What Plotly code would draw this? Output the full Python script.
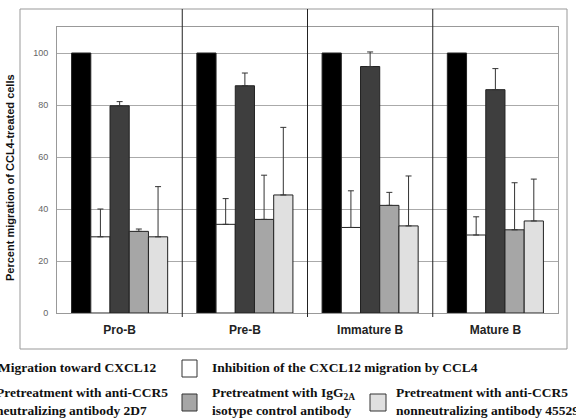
import plotly.graph_objects as go

categories = ["Pro-B", "Pre-B", "Immature B", "Mature B"]
cxcl12 = [100, 100, 100, 100]
ccl4 = [29.3, 34.1, 32.9, 30.0]
ccl4_err = [10.7, 9.9, 14.1, 7.0]
ab2d7 = [79.7, 87.4, 94.8, 85.9]
ab2d7_err = [1.6, 4.9, 5.6, 8.1]
igg = [31.4, 36.0, 41.4, 32.0]
igg_err = [0.9, 17.0, 5.0, 18.1]
ab45529 = [29.3, 45.4, 33.5, 35.4]
ab45529_err = [19.3, 26.0, 19.2, 16.1]
y_ticks = [0, 20, 40, 60, 80, 100]

W, H = 576, 418
L, R, T, B = 57, 18, 27, 105
PW, PH = W - L - R, H - T - B


def px(x):
    return (x - L) / PW


def py(y):
    return (H - B - y) / PH


series = [
    ("Migration toward CXCL12", cxcl12, None, "#000000"),
    ("Inhibition of the CXCL12 migration by CCL4", ccl4, ccl4_err, "#ffffff"),
    ("Pretreatment with anti-CCR5 neutralizing antibody 2D7", ab2d7, ab2d7_err, "#3e3e3e"),
    ("Pretreatment with IgG2A isotype control antibody", igg, igg_err, "#a6a6a6"),
    ("Pretreatment with anti-CCR5 nonneutralizing antibody 45529", ab45529, ab45529_err, "#e0e0e0"),
]

fig = go.Figure()
for name, vals, err, col in series:
    kw = {}
    if err is not None:
        kw["error_y"] = dict(type="data", symmetric=False, array=err,
                             arrayminus=[0] * len(err), color="#333333",
                             thickness=1, width=3)
    fig.add_trace(go.Bar(x=categories, y=vals, name=name, marker_color=col,
                         marker_line_color="#222222", marker_line_width=1,
                         showlegend=False, **kw))

fig.update_layout(
    width=W, height=H,
    margin=dict(l=L, r=R, t=T, b=B),
    barmode="group", bargap=0.233, bargroupgap=0,
    plot_bgcolor="white", paper_bgcolor="white",
    font=dict(family="Liberation Sans, Arial, sans-serif"),
)
fig.update_yaxes(range=[0, 110], tickvals=y_ticks, showgrid=True,
                 gridcolor="#aaaaaa", gridwidth=1, showline=True,
                 linecolor="#999999", linewidth=1, mirror=True, zeroline=False,
                 ticks="", ticklabelstandoff=6,
                 tickfont=dict(size=9, color="#666666"))
fig.update_xaxes(range=[-0.5, 3.5], showgrid=False, showline=True,
                 linecolor="#999999", linewidth=1, mirror=True, ticks="",
                 ticklabelstandoff=6,
                 tickfont=dict(size=12, color="#222222", weight="bold"))

shapes = []
# outer frame
shapes.append(dict(type="rect", xref="paper", yref="paper",
                   x0=px(20), x1=px(567), y0=py(349), y1=py(9),
                   line=dict(color="#999999", width=1), fillcolor="rgba(0,0,0,0)",
                   layer="below"))
# panel dividers
for xv in [0.5, 1.5, 2.5]:
    shapes.append(dict(type="line", xref="x", yref="paper", x0=xv, x1=xv,
                       y0=py(317), y1=py(9), line=dict(color="#222222", width=1)))
# legend boxes
for (x0, x1, y0, y1, col) in [(182, 197, 360, 377, "#ffffff"),
                              (182, 197, 394, 411, "#a6a6a6"),
                              (370, 386, 394, 411, "#e0e0e0")]:
    shapes.append(dict(type="rect", xref="paper", yref="paper",
                       x0=px(x0), x1=px(x1), y0=py(y1), y1=py(y0),
                       fillcolor=col, line=dict(color="#333333", width=1)))
fig.update_layout(shapes=shapes)

serif = dict(family="Liberation Serif, Times New Roman, serif", size=13.5, color="#111111")
ann = [
    dict(text="<b>Percent migration of CCL4-treated cells</b>", x=px(10), y=py(178),
         textangle=-90, xanchor="center", yanchor="middle",
         font=dict(size=11, color="#111111", family="Liberation Sans, Arial, sans-serif")),
    dict(text="<b>Migration toward CXCL12</b>", x=px(158), y=py(367),
         xanchor="right", yanchor="middle", font=serif),
    dict(text="<b>Inhibition of the CXCL12 migration by CCL4</b>", x=px(210), y=py(367),
         xanchor="left", yanchor="middle", font=serif),
    dict(text="<b>Pretreatment with anti-CCR5<br>neutralizing antibody 2D7</b>", x=px(170), y=py(401),
         xanchor="right", yanchor="middle", align="left", font=serif),
    dict(text="<b>Pretreatment with IgG<sub>2A</sub><br>isotype control antibody</b>", x=px(210), y=py(401),
         xanchor="left", yanchor="middle", align="left", font=serif),
    dict(text="<b>Pretreatment with anti-CCR5<br>nonneutralizing antibody 45529</b>", x=px(394), y=py(401),
         xanchor="left", yanchor="middle", align="left", font=serif),
]
for a in ann:
    a.update(xref="paper", yref="paper", showarrow=False)
fig.update_layout(annotations=ann)

fig.write_html("out.html", config={"displayModeBar": False},
               post_script="document.body.style.margin='0';document.body.style.overflow='hidden';")
